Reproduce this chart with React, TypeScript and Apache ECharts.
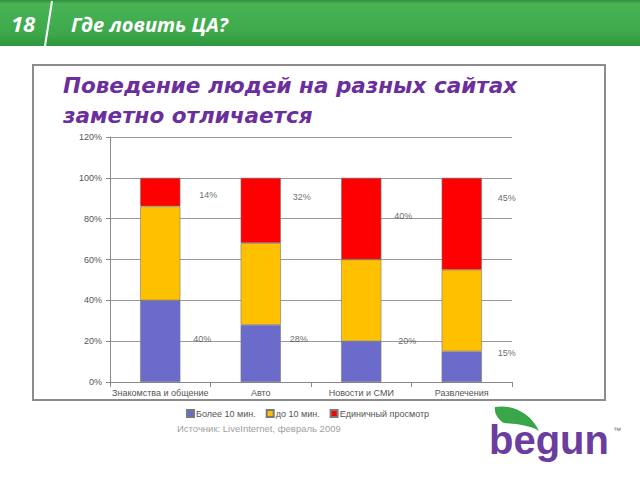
import React, { useEffect, useRef } from "react";
import * as echarts from "echarts";

const categories = ["Знакомства и общение", "Авто", "Новости и СМИ", "Развлечения"];
const seriesNames = ["Более 10 мин.", "до 10 мин.", "Единичный просмотр"];
const longVisits = [40, 28, 20, 15];
const shortVisits = [46, 40, 40, 40];
const singleViews = [14, 32, 40, 45];
const yTickMax = 120;
const yTickStep = 20;

// label placement (layout only)
const topLabelHeights = [91.5, 90.5, 81.5, 90];
const topLabelOffsets = [48, 41, 42, 45];
const bottomLabelHeights = [21, 21, 20, 14];
const bottomLabelOffsets = [42, 38, 46, 45];

const COLORS = ["#6b6bcb", "#ffc000", "#ff0000"];

const leafPath =
  "M0,0 C17,-3 36,6 44,24 C34,18 21,17 9,16 C2,12 -1,5 0,0 Z";

export default function App() {
  const ref = useRef<HTMLDivElement>(null);
  useEffect(() => {
    if (!ref.current) return;
    echarts.graphic.registerShape("leaf", echarts.graphic.extendPath(leafPath, {}) as any);
    const chart = echarts.init(ref.current, null, { renderer: "svg" });
    const labelSeries = (
      heights: number[],
      offsets: number[],
      values: number[],
      name: string
    ) => ({
      type: "scatter",
      name,
      symbolSize: 0,
      silent: true,
      z: 5,
      data: heights.map((h, i) => ({
        value: [i, h],
        label: {
          show: true,
          position: "inside",
          offset: [offsets[i], 0],
          formatter: values[i] + "%",
        },
      })),
      label: { color: "#444", fontSize: 9, fontFamily: "Liberation Sans" },
    });
    const barBase = {
      type: "bar",
      stack: "total",
      barWidth: "40%",
      itemStyle: { borderColor: "#7a7a7a", borderWidth: 0.6 },
    };
    chart.setOption({
      animation: false,
      textStyle: { fontFamily: "Liberation Sans" },
      grid: { left: 110, right: 128, top: 137, bottom: 98 },
      legend: {
        data: seriesNames,
        left: 181,
        top: 404,
        itemWidth: 7,
        itemHeight: 7,
        itemGap: 10,
        icon: "rect",
        textStyle: { fontSize: 9, color: "#555", padding: [0, 0, 0, -3] },
      },
      xAxis: {
        type: "category",
        data: categories,
        axisLine: { lineStyle: { color: "#888" } },
        axisTick: { show: true, length: 5, lineStyle: { color: "#888" } },
        axisLabel: { fontSize: 9, color: "#555", margin: 6, interval: 0 },
      },
      yAxis: {
        type: "value",
        min: 0,
        max: yTickMax,
        interval: yTickStep,
        axisLine: { show: true, lineStyle: { color: "#888" } },
        axisTick: { show: true, length: 4, lineStyle: { color: "#888" } },
        axisLabel: { fontSize: 9, color: "#555", formatter: "{value}%", margin: 8 },
        splitLine: { lineStyle: { color: "#999" } },
      },
      series: [
        { ...barBase, name: seriesNames[0], data: longVisits, itemStyle: { ...barBase.itemStyle, color: COLORS[0] } },
        { ...barBase, name: seriesNames[1], data: shortVisits, itemStyle: { ...barBase.itemStyle, color: COLORS[1] } },
        { ...barBase, name: seriesNames[2], data: singleViews, itemStyle: { ...barBase.itemStyle, color: COLORS[2] } },
        labelSeries(topLabelHeights, topLabelOffsets, singleViews, "top-labels"),
        labelSeries(bottomLabelHeights, bottomLabelOffsets, longVisits, "bottom-labels"),
      ],
      graphic: [
        {
          type: "rect",
          shape: { x: 0, y: 0, width: 640, height: 46 },
          style: {
            fill: new echarts.graphic.LinearGradient(0, 0, 0, 1, [
              { offset: 0, color: "#2f8f3c" },
              { offset: 0.08, color: "#48b454" },
              { offset: 0.7, color: "#3ea94b" },
              { offset: 1, color: "#2f963d" },
            ]),
          },
          silent: true,
        },
        {
          type: "text",
          x: 11,
          y: 23,
          style: {
            text: "18",
            fill: "#fff",
            font: "italic bold 22px 'Open Sans'",
            verticalAlign: "middle",
          },
        },
        {
          type: "line",
          shape: { x1: 52, y1: 1, x2: 45, y2: 46 },
          style: { stroke: "#fff", lineWidth: 2 },
        },
        {
          type: "text",
          x: 71,
          y: 24,
          style: {
            text: "Где ловить ЦА?",
            fill: "#fff",
            font: "italic bold 20px 'Open Sans'",
            verticalAlign: "middle",
          },
        },
        {
          type: "rect",
          shape: { x: 33, y: 65, width: 572, height: 335 },
          style: { fill: "none", stroke: "#8c8c8c", lineWidth: 2 },
          z: -1,
        },
        {
          type: "text",
          x: 63,
          y: 85,
          style: {
            text: "Поведение людей на разных сайтах",
            fill: "#6a2f9c",
            font: "italic bold 21.5px 'DejaVu Sans'",
            verticalAlign: "middle",
          },
        },
        {
          type: "text",
          x: 63,
          y: 115,
          style: {
            text: "заметно отличается",
            fill: "#6a2f9c",
            font: "italic bold 21.5px 'DejaVu Sans'",
            verticalAlign: "middle",
          },
        },
        {
          type: "text",
          x: 177,
          y: 428,
          style: {
            text: "Источник: LiveInternet, февраль 2009",
            fill: "#a0a0a0",
            font: "9.5px 'Liberation Sans'",
            verticalAlign: "middle",
          },
        },
        {
          type: "leaf",
          x: 495,
          y: 407,
          scaleX: 1,
          scaleY: 1,
          style: { fill: "#3aa64a" },
        } as any,
        {
          type: "text",
          x: 489,
          y: 440,
          style: {
            text: "begun",
            fill: "#6b3d9e",
            font: "bold 40px 'Liberation Sans'",
            verticalAlign: "middle",
          },
        },
        {
          type: "text",
          x: 613,
          y: 430,
          style: { text: "™", fill: "#666", font: "8px 'Liberation Sans'", verticalAlign: "middle" },
        },
      ],
    });
    return () => chart.dispose();
  }, []);
  return (
    <div
      ref={ref}
      style={{ position: "fixed", left: 0, top: 0, width: 640, height: 480, background: "#fff" }}
    />
  );
}
